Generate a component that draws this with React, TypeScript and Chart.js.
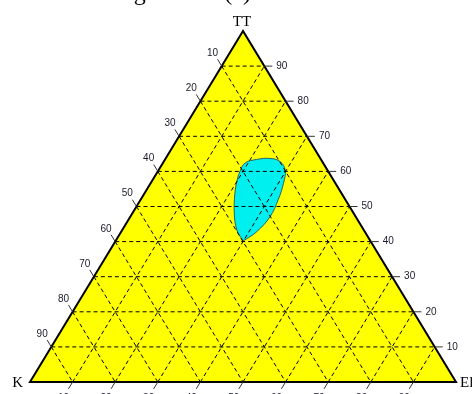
import { useEffect, useRef } from "react";
import { Chart, registerables } from "chart.js";

Chart.register(...registerables);

// Grid levels (percent) shared by the three ternary axes
const gridLevels = [10, 20, 30, 40, 50, 60, 70, 80, 90];
const tickLabels = ["10", "20", "30", "40", "50", "60", "70", "80", "90"];

// Vertex names
const vertexTop = "TT";
const vertexLeft = "K";
const vertexRight = "El";
const titleText = "Phase diagram TT (a)";

// Outline of the field, as compositions (TT %, El %); K = 100 - TT - El.
// Starts and ends at the lower tip.
const regionTT = [40.3, 43.3, 48.1, 53.8, 57.1, 59.9, 62.4, 63.4, 63.7, 62.8, 60.4, 56.6, 51.9, 47.1, 42.8, 40.5, 40.3];
const regionEl = [29.8, 26.9, 23.9, 21.2, 20.0, 19.3, 19.3, 21.5, 24.5, 27.3, 29.7, 31.2, 32.3, 32.8, 31.8, 30.2, 29.8];

// Cartesian position inside the triangle: x runs K -> El along the base, y is TT
const toXY = (tt: number, el: number) => ({ x: el + tt / 2, y: tt });

const ternaryPlugin = {
  id: "ternary",
  beforeDatasetsDraw(chart: any) {
    const { ctx, scales } = chart;
    const P = (tt: number, el: number) => {
      const c = toXY(tt, el);
      return [scales.x.getPixelForValue(c.x), scales.y.getPixelForValue(c.y)];
    };
    const a = P(100, 0), k = P(0, 0), e = P(0, 100);
    ctx.save();
    ctx.beginPath();
    ctx.moveTo(a[0], a[1]);
    ctx.lineTo(k[0], k[1]);
    ctx.lineTo(e[0], e[1]);
    ctx.closePath();
    ctx.fillStyle = "#FFFF00";
    ctx.fill();
    ctx.restore();
  },
  afterDatasetsDraw(chart: any) {
    const { ctx, scales } = chart;
    const P = (tt: number, el: number) => {
      const c = toXY(tt, el);
      return [scales.x.getPixelForValue(c.x), scales.y.getPixelForValue(c.y)];
    };
    const line = (p: number[], q: number[]) => {
      ctx.beginPath();
      ctx.moveTo(p[0], p[1]);
      ctx.lineTo(q[0], q[1]);
      ctx.stroke();
    };
    const a = P(100, 0), k = P(0, 0), e = P(0, 100);

    // dashed grid
    ctx.save();
    ctx.strokeStyle = "#000";
    ctx.lineWidth = 1;
    ctx.setLineDash([4, 3]);
    gridLevels.forEach((v) => {
      // constant TT
      line(P(v, 0), P(v, 100 - v));
      // constant El (parallel to K–TT side)
      line(P(0, v), P(100 - v, v));
      // constant K (parallel to TT–El side)
      line(P(100 - v, 0), P(0, 100 - v));
    });
    ctx.restore();

    // triangle outline
    ctx.save();
    ctx.strokeStyle = "#000";
    ctx.lineWidth = 2;
    ctx.lineJoin = "miter";
    ctx.beginPath();
    ctx.moveTo(a[0], a[1]);
    ctx.lineTo(k[0], k[1]);
    ctx.lineTo(e[0], e[1]);
    ctx.closePath();
    ctx.stroke();
    ctx.restore();

    // ticks and tick labels
    const rdx = e[0] - a[0], rdy = e[1] - a[1];
    const rl = Math.hypot(rdx, rdy);
    const ur = [rdx / rl, rdy / rl]; // along TT->El side
    const ldx = k[0] - a[0], ldy = k[1] - a[1];
    const ll = Math.hypot(ldx, ldy);
    const ul = [ldx / ll, ldy / ll]; // along TT->K side
    const tl = 8;

    ctx.save();
    ctx.strokeStyle = "#333";
    ctx.lineWidth = 1;
    ctx.fillStyle = "#1a1a2a";
    ctx.font = "10px 'Liberation Sans', Arial, sans-serif";
    gridLevels.forEach((v, i) => {
      // TT axis on the right side
      const pr = P(v, 100 - v);
      line(pr, [pr[0] + tl, pr[1]]);
      ctx.textAlign = "left";
      ctx.textBaseline = "middle";
      ctx.fillText(tickLabels[i], pr[0] + tl + 4, pr[1]);

      // K axis on the left side (K = 100 - TT on that edge)
      const pl = P(100 - v, 0);
      const endL = [pl[0] - ur[0] * tl, pl[1] - ur[1] * tl];
      line(pl, endL);
      ctx.textAlign = "center";
      ctx.fillText(tickLabels[i], endL[0] - 5, endL[1] - 6);

      // El axis along the base
      const pb = P(0, v);
      const endB = [pb[0] + ul[0] * tl, pb[1] + ul[1] * tl];
      line(pb, endB);
      ctx.textAlign = "center";
      ctx.textBaseline = "top";
      ctx.fillText(tickLabels[i], endB[0] - 5, endB[1] + 4);
    });
    ctx.restore();

    // vertex names and title
    ctx.save();
    ctx.fillStyle = "#000";
    ctx.font = "15px 'Liberation Serif', 'Times New Roman', serif";
    ctx.textBaseline = "alphabetic";
    ctx.textAlign = "center";
    ctx.fillText(vertexTop, a[0] - 1, a[1] - 5);
    ctx.textAlign = "right";
    ctx.fillText(vertexLeft, k[0] - 7, k[1] + 5);
    ctx.textAlign = "left";
    ctx.fillText(vertexRight, e[0] + 4, e[1] + 5);
    ctx.font = "24px 'Liberation Serif', 'Times New Roman', serif";
    ctx.textAlign = "right";
    ctx.fillText(titleText, a[0] + 8, 0);
    ctx.restore();
  },
};

export default function App() {
  const ref = useRef<HTMLCanvasElement | null>(null);

  useEffect(() => {
    if (!ref.current) return;
    const pts = regionTT.map((tt, i) => toXY(tt, regionEl[i]));
    const chart = new Chart(ref.current, {
      type: "scatter",
      data: {
        datasets: [
          {
            label: "region",
            data: pts,
            showLine: true,
            fill: "shape",
            tension: 0.4,
            backgroundColor: "#00F0F0",
            borderColor: "#2f5f5f",
            borderWidth: 1,
            pointRadius: 0,
          } as any,
        ],
      },
      options: {
        responsive: false,
        animation: false,
        layout: { padding: { left: 30, right: 16, top: 31, bottom: 12 } },
        scales: {
          x: { type: "linear", min: 0, max: 100, display: false },
          y: { type: "linear", min: 0, max: 100, display: false },
        },
        plugins: {
          legend: { display: false },
          tooltip: { enabled: false },
        },
      },
      plugins: [ternaryPlugin],
    });
    return () => chart.destroy();
  }, []);

  return (
    <div style={{ position: "fixed", left: 0, top: 0, width: 472, height: 394, background: "#fff" }}>
      <canvas ref={ref} width={472} height={394} style={{ display: "block" }} />
    </div>
  );
}
